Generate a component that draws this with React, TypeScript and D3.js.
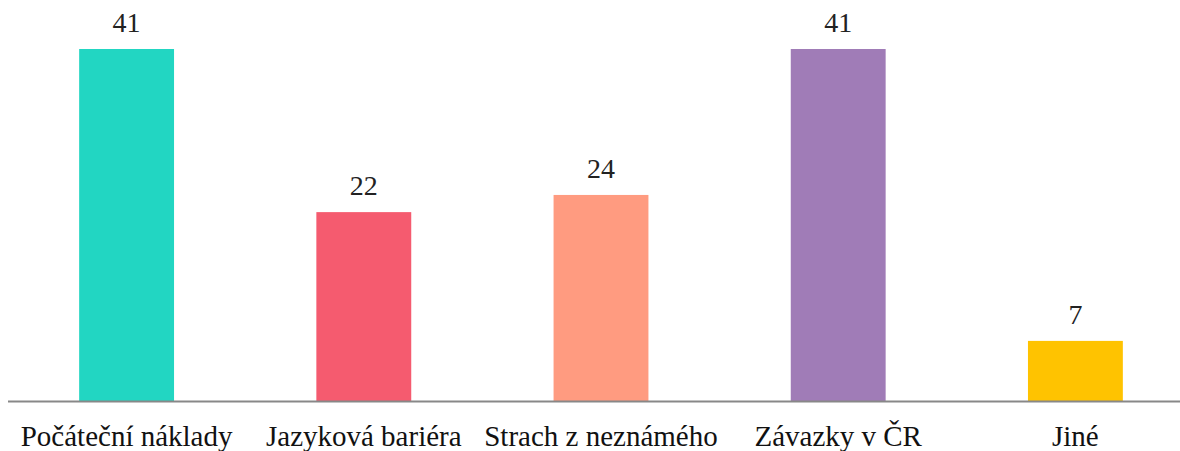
import React from "react";
import * as d3 from "d3";

const categories = ["Počáteční náklady", "Jazyková bariéra", "Strach z neznámého", "Závazky v ČR", "Jiné"];
const values = [41, 22, 24, 41, 7];
const colors = ["#22D6C2", "#F55B6F", "#FF9B80", "#A07CB7", "#FFC300"];

const W = 1180;
const H = 451;
const baseY = 401;
const topY = 49;
const left = 8;
const right = 1194;
const FONT = "Liberation Serif, Times New Roman, DejaVu Serif, serif";

export default function App() {
  const x = d3.scaleBand<string>().domain(categories).range([left, right]).padding(0);
  const y = d3.scaleLinear().domain([0, 41]).range([baseY, topY]);
  const barW = x.bandwidth() * 0.4;
  return (
    <svg width={W} height={H} style={{ position: "absolute", left: 0, top: 0 }}>
      <rect width={W} height={H} fill="#fff" />
      {categories.map((c, i) => {
        const cx = (x(c) as number) + x.bandwidth() / 2;
        return (
          <g key={c}>
            <rect x={cx - barW / 2} y={y(values[i])} width={barW} height={baseY - y(values[i])} fill={colors[i]} />
            <text x={cx} y={y(values[i]) - 17} textAnchor="middle" style={{ fontFamily: FONT, fontSize: 28 }} fill="#222">
              {values[i]}
            </text>
            <text x={cx} y={445.5} textAnchor="middle" style={{ fontFamily: FONT, fontSize: 29 }} fill="#111">
              {c}
            </text>
          </g>
        );
      })}
      <line x1={left} x2={W} y1={baseY + 0.5} y2={baseY + 0.5} stroke="#888" strokeWidth={2} />
    </svg>
  );
}
